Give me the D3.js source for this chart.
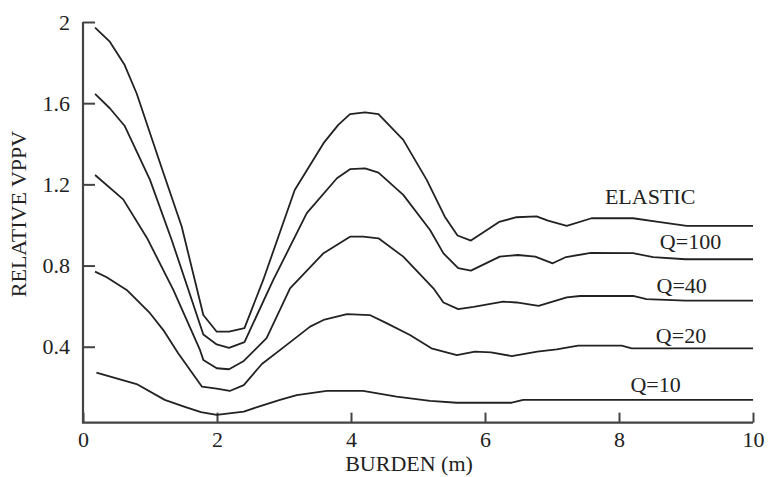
<!DOCTYPE html>
<html>
<head>
<meta charset="utf-8">
<script src="https://cdn.jsdelivr.net/npm/d3@7"></script>
<style>
  html, body { margin: 0; padding: 0; background: #fff; }
  svg { display: block; }
  text { font-family: "Liberation Serif", "Times New Roman", serif; fill: #222; }
</style>
</head>
<body>
<svg id="chart" width="769" height="477"></svg>
<script>
// ---- data (burden in m, relative VPPV) ----
const xTicks = [0, 2, 4, 6, 8, 10];
const yTicks = [0.4, 0.8, 1.2, 1.6, 2];
const seriesNames = ["ELASTIC", "Q=100", "Q=40", "Q=20", "Q=10"];

const elastic = [[0.18,1.972],[0.40,1.903],[0.62,1.789],[0.80,1.649],[1.175,1.281],[1.473,0.992],[1.796,0.556],[1.996,0.474],[2.18,0.474],[2.41,0.492],[2.69,0.729],[3.16,1.172],[3.59,1.403],[3.81,1.493],[3.985,1.546],[4.21,1.555],[4.41,1.546],[4.78,1.419],[5.13,1.222],[5.40,1.041],[5.59,0.948],[5.79,0.923],[6.21,1.015],[6.47,1.038],[6.77,1.042],[6.94,1.021],[7.22,0.995],[7.59,1.033],[8.21,1.033],[8.56,1.016],[9.01,0.995],[10,0.995]];
const q100 = [[0.18,1.646],[0.40,1.575],[0.62,1.489],[0.825,1.345],[1.0,1.222],[1.324,0.926],[1.796,0.460],[1.996,0.411],[2.18,0.394],[2.41,0.423],[2.84,0.729],[3.34,1.058],[3.79,1.230],[3.985,1.275],[4.21,1.279],[4.41,1.258],[4.78,1.148],[5.18,0.975],[5.38,0.860],[5.60,0.787],[5.79,0.775],[6.22,0.844],[6.49,0.852],[6.75,0.844],[7.01,0.811],[7.21,0.842],[7.58,0.862],[8.21,0.861],[8.51,0.841],[8.99,0.831],[10,0.831]];
const q40 = [[0.18,1.246],[0.60,1.126],[0.955,0.936],[1.348,0.680],[1.746,0.384],[1.796,0.335],[1.996,0.294],[2.18,0.289],[2.40,0.330],[2.74,0.442],[3.09,0.688],[3.59,0.861],[3.985,0.942],[4.18,0.942],[4.41,0.934],[4.78,0.844],[5.23,0.688],[5.38,0.618],[5.60,0.585],[5.83,0.596],[6.27,0.622],[6.47,0.618],[6.80,0.601],[7.22,0.643],[7.42,0.650],[8.21,0.650],[8.41,0.635],[8.99,0.627],[10,0.627]];
const q20 = [[0.18,0.770],[0.354,0.742],[0.652,0.680],[1.0,0.565],[1.199,0.482],[1.418,0.369],[1.776,0.203],[1.996,0.194],[2.19,0.182],[2.40,0.211],[2.67,0.315],[3.04,0.409],[3.39,0.499],[3.59,0.532],[3.94,0.561],[4.28,0.556],[4.53,0.516],[4.88,0.458],[5.20,0.392],[5.58,0.359],[5.85,0.376],[6.09,0.372],[6.40,0.354],[6.78,0.376],[7.07,0.387],[7.39,0.405],[8.04,0.405],[8.19,0.392],[10,0.392]];
const q10 = [[0.20,0.272],[0.80,0.216],[1.22,0.138],[1.52,0.104],[1.76,0.078],[1.996,0.064],[2.40,0.080],[2.61,0.104],[2.94,0.138],[3.19,0.162],[3.64,0.182],[4.18,0.182],[4.68,0.154],[5.18,0.133],[5.58,0.124],[6.40,0.124],[6.57,0.138],[10,0.138]];

// ---- layout (label anchors in data units, kept separate from data) ----
const labelPos = [[7.79,1.103],[8.61,0.881],[8.56,0.666],[8.55,0.417],[8.17,0.178]];
const axisFloor = 0.026;

const svg = d3.select("#chart");
const x = d3.scaleLinear().domain([0, 10]).range([83, 753]);
const y = d3.scaleLinear().domain([0, 2]).range([427.9, 22]);
const fontSize = 22;
const ink = "#222";
const axisInk = "#444";

// axes
const gx = svg.append("g").attr("transform", `translate(0,${y(axisFloor)})`)
  .call(d3.axisBottom(x).tickValues(xTicks).tickSize(-10).tickPadding(9).tickFormat(d => String(d)));
const gy = svg.append("g").attr("transform", `translate(${x(0)},0)`)
  .call(d3.axisLeft(y).tickValues(yTicks).tickSize(-12).tickPadding(13).tickFormat(d => String(d)));
[gx, gy].forEach(g => {
  g.select(".domain").remove();
  g.selectAll(".tick line").attr("stroke", axisInk).attr("stroke-width", 2);
  g.selectAll(".tick text").attr("font-family", "Liberation Serif").attr("font-size", fontSize).attr("fill", ink);
});
// axis lines
svg.append("path")
  .attr("d", `M${x(0)},${y(2)}V${y(axisFloor)}H${x(10)}`)
  .attr("fill", "none").attr("stroke", axisInk).attr("stroke-width", 2.2);

// curves
const line = d3.line().x(d => x(d[0])).y(d => y(d[1])).curve(d3.curveLinear);
const all = [elastic, q100, q40, q20, q10];
svg.append("g").selectAll("path").data(all).join("path")
  .attr("d", line).attr("fill", "none").attr("stroke", ink).attr("stroke-width", 1.8)
  .attr("stroke-linejoin", "round");

// series labels
svg.append("g").selectAll("text").data(seriesNames).join("text")
  .attr("x", (d, i) => x(labelPos[i][0])).attr("y", (d, i) => y(labelPos[i][1]))
  .attr("font-size", fontSize).text(d => d);

// axis titles
svg.append("text").attr("x", 409).attr("y", 471).attr("text-anchor", "middle")
  .attr("font-size", fontSize).text("BURDEN (m)");
svg.append("text").attr("transform", "translate(26,214) rotate(-90)").attr("text-anchor", "middle")
  .attr("font-size", fontSize).text("RELATIVE VPPV");
</script>
</body>
</html>
